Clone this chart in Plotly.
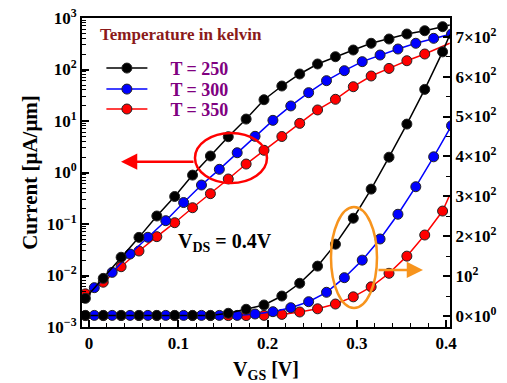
import plotly.graph_objects as go

# ---------------- data ----------------
# gate voltage grids (V)
vgs_a = [-0.004, 0.016, 0.036, 0.056, 0.076, 0.096, 0.116, 0.136, 0.156, 0.176,
         0.196, 0.216, 0.236, 0.256, 0.276, 0.296, 0.316, 0.336, 0.356, 0.376, 0.396]
vgs_b = [0.006, 0.026, 0.046, 0.066, 0.086, 0.106, 0.126, 0.146, 0.166, 0.186,
         0.206, 0.226, 0.246, 0.266, 0.286, 0.306, 0.326, 0.346, 0.366, 0.386, 0.406]
vgs_edge = 0.404  # where the curves leave the plot

# log-scale current (uA/um), left axis
log_250 = [0.0036, 0.0088, 0.0226, 0.055, 0.143, 0.342, 0.89, 2.09, 4.95, 10.9,
           25.9, 47.8, 81.8, 128, 177, 239, 323, 391, 489, 566, 678]
log_250_edge = 731
log_300 = [0.0058, 0.0115, 0.0261, 0.0552, 0.116, 0.261, 0.571, 1.153, 2.42, 5.04,
           10.3, 19.6, 35.5, 60.7, 94.8, 142, 191, 250, 323, 403, 489]
log_350 = [0.0044, 0.0074, 0.0148, 0.0299, 0.0568, 0.106, 0.207, 0.388, 0.748, 1.46,
           2.70, 5.0, 9.0, 16.4, 26.4, 46.3, 74.8, 105, 148, 200]
log_350_edge = 323

# linear-scale current (uA/um), right axis
lin_250 = [1.5, 1.5, 1.5, 1.5, 1.5, 1.5, 1.5, 1.5, 6.8, 16.8,
           27.6, 50, 82, 125, 180, 245, 318, 398, 481, 568, 662]
lin_250_edge = 705
lin_300 = [1.5, 1.5, 1.5, 1.5, 1.5, 1.5, 1.5, 1.5, 1.5, 5,
           10.8, 20.8, 35.8, 59.4, 96, 140, 193, 255, 324, 399, 477]
lin_350 = [1, 1, 1, 1, 1, 1, 1, 1, 1, 1,
           1.5, 4, 10, 18, 30, 48, 73, 107, 150, 203, 263]
lin_350_edge = 303

legend_title = "Temperature in kelvin"
legend_names = ["T = 250", "T = 300", "T = 350"]
left_tick_vals = [1e-3, 1e-2, 1e-1, 1e0, 1e1, 1e2, 1e3]
left_tick_text = ["10<sup>−3</sup>", "10<sup>−2</sup>", "10<sup>−1</sup>", "10<sup>0</sup>",
                  "10<sup>1</sup>", "10<sup>2</sup>", "10<sup>3</sup>"]
right_tick_vals = [0, 100, 200, 300, 400, 500, 600, 700]
right_tick_text = ["0×10<sup>0</sup>", "10<sup>2</sup>", "2×10<sup>2</sup>", "3×10<sup>2</sup>",
                   "4×10<sup>2</sup>", "5×10<sup>2</sup>", "6×10<sup>2</sup>", "7×10<sup>2</sup>"]
x_tick_vals = [0, 0.1, 0.2, 0.3, 0.4]
x_tick_text = ["0", "0.1", "0.2", "0.3", "0.4"]

# ---------------- styling ----------------
FONT = "Liberation Serif"
C_BLACK, C_BLUE, C_RED = "#000000", "#0000FF", "#FF0000"
MK = dict(size=10, line=dict(color="#222222", width=1))
PAD = "\u00a0\u00a0\u00a0\u00a0"

fig = go.Figure()


def add_series(x, y, color, name, yaxis, legend=None, edge=None):
    if edge is not None:
        fig.add_trace(go.Scatter(x=[x[len(y) - 1], edge[0]], y=[y[-1], edge[1]],
                                 mode="lines", line=dict(color=color, width=1.5),
                                 yaxis=yaxis, showlegend=False, hoverinfo="skip"))
    fig.add_trace(go.Scatter(x=x[:len(y)], y=y, mode="lines+markers", name=PAD + name,
                             line=dict(color=color, width=1.5),
                             marker=dict(color=color, **MK),
                             yaxis=yaxis, showlegend=legend is not None,
                             legend=legend if legend else "legend"))


# linear (right axis) curves
add_series(vgs_a, lin_350, C_RED, legend_names[2], "y2", None, (vgs_edge, lin_350_edge))
add_series(vgs_b, lin_300, C_BLUE, legend_names[1], "y2", None)
add_series(vgs_a, lin_250, C_BLACK, legend_names[0], "y2", None, (vgs_edge, lin_250_edge))
# log (left axis) curves
add_series(vgs_a, log_350, C_RED, legend_names[2], "y", "legend3", (vgs_edge, log_350_edge))
add_series(vgs_b, log_300, C_BLUE, legend_names[1], "y", "legend2")
add_series(vgs_a, log_250, C_BLACK, legend_names[0], "y", "legend", (vgs_edge, log_250_edge))

# minor ticks for the log axis
minor_log = [m * 10 ** e for e in range(-3, 3) for m in range(2, 10)]

tickfont = dict(family=FONT, size=17, color="black", weight="bold")
legfont = dict(family=FONT, size=18, color="#800080", weight="bold")


def leg(ypaper):
    return dict(x=0.0527, y=ypaper, xanchor="left", yanchor="middle",
                bgcolor="rgba(0,0,0,0)", font=legfont, itemwidth=41)


fig.update_layout(
    width=507, height=383,
    margin=dict(l=82, r=57, t=18, b=56, autoexpand=False),
    paper_bgcolor="white", plot_bgcolor="white",
    font=dict(family=FONT, color="black"),
    xaxis=dict(range=[-0.0078, 0.4043], showgrid=False, zeroline=False, automargin=False,
               showline=True, linecolor="black", linewidth=2, mirror=True,
               ticks="inside", ticklen=7, tickwidth=1.5, tickcolor="black",
               tickvals=x_tick_vals, ticktext=x_tick_text, tickfont=tickfont,
               minor=dict(ticks="inside", ticklen=4, tickwidth=1, tickcolor="black",
                          tickvals=[0.02, 0.04, 0.06, 0.08, 0.12, 0.14, 0.16, 0.18,
                                    0.22, 0.24, 0.26, 0.28, 0.32, 0.34, 0.36, 0.38]),
               title=dict(text="V<sub>GS</sub> [V]", standoff=14,
                          font=dict(family=FONT, size=20, color="black", weight="bold"))),
    yaxis=dict(type="log", range=[-3, 3], showgrid=False, zeroline=False, automargin=False,
               showline=True, linecolor="black", linewidth=2,
               ticks="inside", ticklen=7, tickwidth=1.5, tickcolor="black",
               tickvals=left_tick_vals, ticktext=left_tick_text, tickfont=tickfont,
               minor=dict(ticks="inside", ticklen=4, tickwidth=1, tickcolor="black",
                          tickvals=minor_log),
               title=dict(text="Current [μA/μm]", standoff=4,
                          font=dict(family=FONT, size=21, color="black", weight="bold"))),
    yaxis2=dict(overlaying="y", side="right", range=[-27.6, 746.9], showgrid=False,
                zeroline=False, showline=True, linecolor="black", linewidth=2,
                automargin=False,
                ticks="inside", ticklen=7, tickwidth=1.5, tickcolor="black",
                tickvals=right_tick_vals, ticktext=right_tick_text, tickfont=tickfont,
                minor=dict(ticks="inside", ticklen=4, tickwidth=1, tickcolor="black",
                           tickvals=[50, 150, 250, 350, 450, 550, 650])),
    legend=leg(0.837),
    legend2=leg(0.769),
    legend3=leg(0.7045),
    showlegend=True,
)

# legend title
fig.add_annotation(xref="paper", yref="paper", x=0.0427, y=0.945, xanchor="left",
                   yanchor="middle", showarrow=False, text=legend_title,
                   font=dict(family=FONT, size=17, color="#8B1A1A", weight="bold"))

# V_DS label
fig.add_annotation(xref="paper", yref="paper", x=0.2554, y=0.272, xanchor="left",
                   yanchor="middle", showarrow=False,
                   text="V<sub>DS</sub> = 0.4V",
                   font=dict(family=FONT, size=20, color="black", weight="bold"))

# red ellipse + arrow (points to left axis)
fig.add_shape(type="circle", xref="paper", yref="paper",
              x0=0.307, x1=0.5027, y0=0.466, y1=0.628,
              line=dict(color="#FF0000", width=2.5))
fig.add_annotation(xref="paper", yref="paper", x=0.106, y=0.535, ax=74, ay=0,
                   text="", showarrow=True, arrowhead=2, arrowsize=1.3,
                   arrowwidth=2.5, arrowcolor="#FF0000")

# orange ellipse + arrow (points to right axis)
fig.add_shape(type="circle", xref="paper", yref="paper",
              x0=0.6766, x1=0.8016, y0=0.0615, y1=0.388,
              line=dict(color="#F7941D", width=2.5))
fig.add_annotation(xref="paper", yref="paper", x=0.9266, y=0.1845, ax=-46, ay=0,
                   text="", showarrow=True, arrowhead=2, arrowsize=1.3,
                   arrowwidth=2.5, arrowcolor="#F7941D")

fig.write_html("out.html")
